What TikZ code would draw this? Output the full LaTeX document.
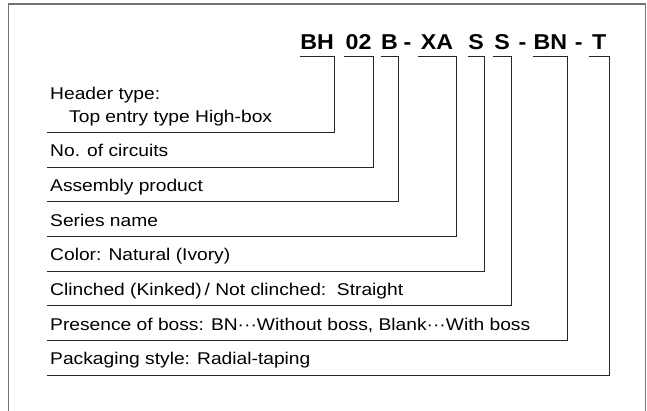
\documentclass[tikz,border=0pt]{standalone}
\usepackage{fontspec}
\setmainfont{Liberation Sans}[FakeStretch=1.13]
\newfontfamily\codefont{Liberation Sans}[FakeStretch=1.08]
\begin{document}
\begin{tikzpicture}[x=1pt, y=-1pt,
  every node/.style={font=\fontsize{17}{20}\selectfont},
  code/.style={font=\codefont\bfseries\fontsize{21.5}{24}\selectfont, inner sep=0pt, text depth=6.7pt, anchor=south west},
  desc/.style={inner xsep=3pt, inner ysep=0pt, text depth=10pt, anchor=south west},
  lead/.style={draw=black!85, line width=0.9pt}]
  \useasboundingbox (0,0) rectangle (647,411);

  % Frame
  \draw[black!55, line width=1.3pt] (8.7,411) -- (8.7,4) -- (645.5,4) -- (645.5,411);

  % Part number
  \node[code, minimum width=34pt] (segBH) at (300,56.7) {BH};
  \node[code, minimum width=28.7pt] (segCirc) at (344,56.7) {02};
  \node[code, minimum width=16.5pt] (segAssy) at (381,56.7) {B};
  \node[code, anchor=base] (dashA) at (407.5,50) {-};
  \node[code, minimum width=37.7pt] (segSeries) at (418,56.7) {XA};
  \node[code, minimum width=16pt] (segColor) at (468,56.7) {S};
  \node[code, minimum width=17.7pt] (segClinch) at (493,56.7) {S};
  \node[code, anchor=base] (dashB) at (522.5,50) {-};
  \node[code, minimum width=34.5pt] (segBoss) at (533,56.7) {BN};
  \node[code, anchor=base] (dashC) at (578.7,50) {-};
  \node[code, minimum width=20pt] (segPack) at (589,56.7) {T};

  % Descriptions
  \node[anchor=base west, inner xsep=3pt] (descHead) at (47,100) {Header type:};
  \node[desc] (descType) at (47,132.3) {\hspace{19pt}Top entry type High-box};
  \node[desc] (descCirc) at (47,167) {No. of circuits};
  \node[desc] (descAssy) at (47,201.6) {Assembly product};
  \node[desc] (descSeries) at (47,236.3) {Series name};
  \node[desc] (descColor) at (47,271) {Color: Natural (Ivory)};
  \node[desc] (descClinch) at (47,305.7) {Clinched (Kinked)\,/ Not clinched:\ \ Straight};
  \node[desc] (descBoss) at (47,340.3) {Presence of boss: BN···Without boss, Blank···With boss};
  \node[desc] (descPack) at (47,375) {Packaging style: Radial-taping};

  % Leaders
  \draw[lead] (descType.south west) -| (segBH.south east) -- (segBH.south west);
  \draw[lead] (descCirc.south west) -| (segCirc.south east) -- (segCirc.south west);
  \draw[lead] (descAssy.south west) -| (segAssy.south east) -- (segAssy.south west);
  \draw[lead] (descSeries.south west) -| (segSeries.south east) -- (segSeries.south west);
  \draw[lead] (descColor.south west) -| (segColor.south east) -- (segColor.south west);
  \draw[lead] (descClinch.south west) -| (segClinch.south east) -- (segClinch.south west);
  \draw[lead] (descBoss.south west) -| (segBoss.south east) -- (segBoss.south west);
  \draw[lead] (descPack.south west) -| (segPack.south east) -- (segPack.south west);
\end{tikzpicture}
\end{document}
